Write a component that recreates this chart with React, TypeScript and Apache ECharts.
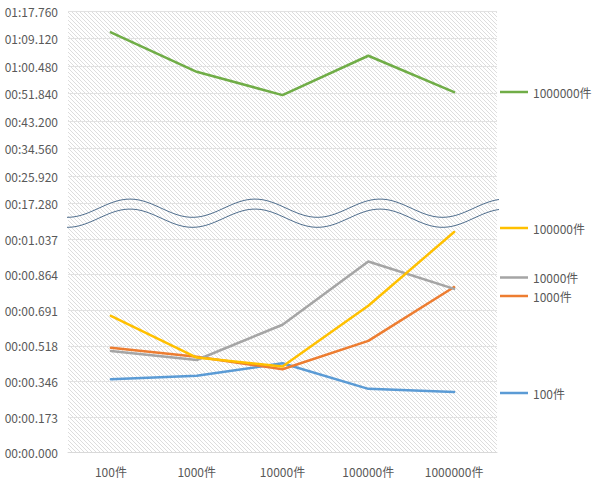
import React, { useEffect, useRef } from "react";
import * as echarts from "echarts";

const categories = ["100件", "1000件", "10000件", "100000件", "1000000件"];
const seriesNames = ["100件", "1000件", "10000件", "100000件", "1000000件"];
// values in seconds
const s100 = [0.357, 0.373, 0.434, 0.31, 0.295];
const s1000 = [0.509, 0.466, 0.405, 0.543, 0.804];
const s10000 = [0.494, 0.45, 0.621, 0.928, 0.795];
const s100000 = [0.664, 0.462, 0.418, 0.713, 1.071];
const s1000000 = [71.06, 58.67, 51.34, 63.7, 52.28];

const topStep = 8.64;
const bottomStep = 0.1728;
const topTickLabels = ["00:17.280", "00:25.920", "00:34.560", "00:43.200", "00:51.840", "01:00.480", "01:09.120", "01:17.760"];
const bottomTickLabels = ["00:00.000", "00:00.173", "00:00.346", "00:00.518", "00:00.691", "00:00.864", "00:01.037", ""];

const colors = ["#5B9BD5", "#ED7D31", "#A5A5A5", "#FFC000", "#70AD47"];
const legendCenters = [393, 296, 277.5, 228, 92];

function makeHatch() {
  const c = document.createElement("canvas");
  c.width = 4;
  c.height = 4;
  const ctx = c.getContext("2d")!;
  ctx.fillStyle = "#ffffff";
  ctx.fillRect(0, 0, 4, 4);
  ctx.strokeStyle = "#dddddd";
  ctx.lineWidth = 1;
  ctx.beginPath();
  for (const o of [-4, 0, 4]) {
    ctx.moveTo(o, 0);
    ctx.lineTo(o + 4, 4);
  }
  ctx.stroke();
  return c;
}

function wave(offset: number) {
  const pts: number[][] = [];
  for (let x = 67; x <= 500; x += 2) {
    pts.push([x, 208.2 + offset - 9.1 * Math.cos((2 * Math.PI * (x - 130)) / 125)]);
  }
  return pts;
}

export default function App() {
  const ref = useRef<HTMLDivElement>(null);
  useEffect(() => {
    if (!ref.current) return;
    const chart = echarts.init(ref.current, undefined, { renderer: "svg" });
    const hatch = { image: makeHatch(), repeat: "repeat" };
    const labelStyle = { color: "#595959", fontSize: 12, fontFamily: "Noto Sans CJK SC" };
    const allData = [s100, s1000, s10000, s100000, s1000000];
    const series = allData.map((d, i) => ({
      name: seriesNames[i],
      type: "line",
      data: d,
      xAxisIndex: i === 4 ? 0 : 1,
      yAxisIndex: i === 4 ? 0 : 1,
      showSymbol: false,
      symbol: "none",
      itemStyle: { color: colors[i] },
      lineStyle: { color: colors[i], width: 2.5, cap: "round", join: "round" },
      z: 3 + i,
    }));
    const legends = seriesNames.map((n, i) => ({
      data: [n],
      left: 500,
      top: legendCenters[i] - 6,
      padding: 0,
      itemWidth: 28,
      itemHeight: 2.5,
      icon: "rect",
      selectedMode: false,
      textStyle: { ...labelStyle, lineHeight: 12, height: 12 },
    }));
    chart.setOption({
      animation: false,
      color: colors,
      textStyle: { fontFamily: "Noto Sans CJK SC" },
      legend: legends,
      grid: [
        { left: 68, top: 11, width: 429, height: 192.5, show: true, backgroundColor: hatch, borderWidth: 0 },
        { left: 68, top: 203.5, width: 429, height: 249.2, show: true, backgroundColor: hatch, borderWidth: 0 },
      ],
      xAxis: [
        { type: "category", gridIndex: 0, data: categories, show: false, boundaryGap: true },
        {
          type: "category",
          gridIndex: 1,
          data: categories,
          boundaryGap: true,
          axisLine: { show: true, lineStyle: { color: "#d9d9d9", width: 1 } },
          axisTick: { show: false },
          axisLabel: { ...labelStyle, margin: 13 },
        },
      ],
      yAxis: [
        {
          type: "value",
          gridIndex: 0,
          min: 17.28,
          max: 77.76,
          interval: topStep,
          axisLine: { show: false },
          axisTick: { show: false },
          splitLine: { lineStyle: { color: "#e2e2e2", width: 1 } },
          axisLabel: {
            ...labelStyle,
            margin: 10,
            formatter: (v: number) => topTickLabels[Math.round(v / topStep) - 2] ?? "",
          },
        },
        {
          type: "value",
          gridIndex: 1,
          min: 0,
          max: 1.2096,
          interval: bottomStep,
          axisLine: { show: false },
          axisTick: { show: false },
          splitLine: { lineStyle: { color: "#e2e2e2", width: 1 } },
          axisLabel: {
            ...labelStyle,
            margin: 10,
            showMaxLabel: false,
            formatter: (v: number) => bottomTickLabels[Math.round(v / bottomStep)] ?? "",
          },
        },
      ],
      series,
      graphic: [
        {
          type: "polyline",
          silent: true,
          z: 100,
          shape: { points: wave(0) },
          style: { stroke: "#52708f", lineWidth: 1, fill: "none" },
        },
        {
          type: "polyline",
          silent: true,
          z: 100,
          shape: { points: wave(10) },
          style: { stroke: "#52708f", lineWidth: 1, fill: "none" },
        },
      ],
    });
    return () => chart.dispose();
  }, []);
  return (
    <div
      ref={ref}
      style={{ position: "fixed", left: 0, top: 0, width: 595, height: 483, background: "#fff" }}
    />
  );
}
